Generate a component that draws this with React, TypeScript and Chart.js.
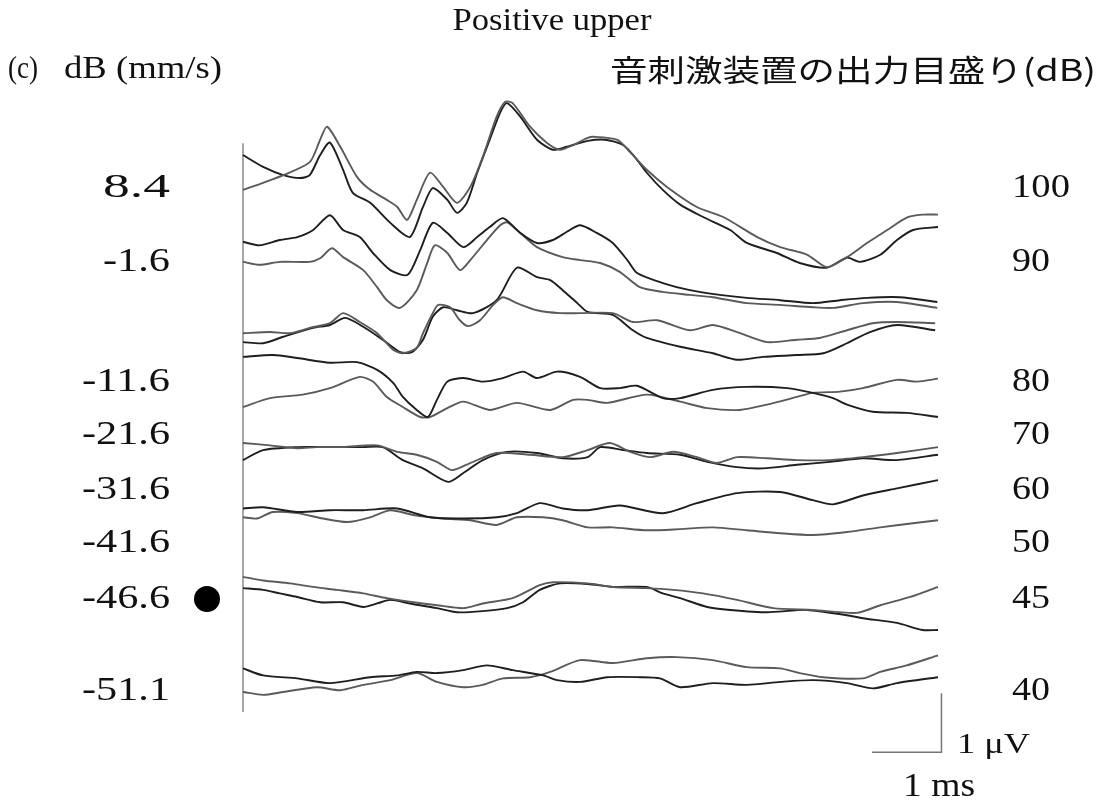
import React, { useEffect, useRef } from "react";
import { Chart, registerables } from "chart.js";

Chart.register(...registerables);

// stimulus output levels (dB) and corresponding velocity levels dB (mm/s)
const stimulusLevels = ["100", "90", "80", "70", "60", "50", "45", "40"];
const velocityLabels = ["8.4", "-1.6", "-11.6", "-21.6", "-31.6", "-41.6", "-46.6", "-51.1"];
// vertical offset of each recorded pair (μV, stacking offset)
const levelOffsets = [10.46, 9.44, 8.0, 7.07, 6.05, 5.03, 3.76, 2.15];

// each trace: [time (ms), amplitude (μV) relative to its level offset]
const trace100a = [[0,0],[0.29,0.12],[0.58,0.25],[0.96,0.47],[1.11,0.85],[1.21,1.07],[1.40,0.73],[1.64,0.22],[1.83,0],[2.07,-0.17],[2.22,-0.29],[2.36,-0.51],[2.50,-0.17],[2.69,0.29],[2.88,0.05],[3.08,-0.22],[3.27,0.05],[3.45,0.56],[3.65,1.24],[3.77,1.49],[3.88,1.47],[4.13,1.07],[4.37,0.80],[4.56,0.68],[4.75,0.76],[4.96,0.88],[5.04,0.90],[5.38,0.85],[5.57,0.64],[5.81,0.34],[6.10,0.05],[6.53,-0.29],[6.91,-0.46],[7.40,-0.80],[7.73,-0.97],[8.12,-1.10],[8.40,-1.31],[8.69,-1.14],[8.98,-0.90],[9.27,-0.68],[9.55,-0.47],[9.78,-0.42],[10.0,-0.42]];
const trace100b = [[0,0.59],[0.29,0.39],[0.58,0.25],[0.82,0.20],[0.96,0.25],[1.11,0.59],[1.25,0.80],[1.44,0.34],[1.58,-0.05],[1.83,-0.22],[2.12,-0.56],[2.40,-0.80],[2.59,-0.29],[2.73,0.03],[2.94,-0.17],[3.08,-0.39],[3.22,-0.22],[3.37,0.29],[3.55,0.85],[3.70,1.31],[3.80,1.47],[3.99,1.24],[4.23,0.85],[4.46,0.68],[4.66,0.73],[4.96,0.83],[5.21,0.85],[5.47,0.76],[5.67,0.51],[5.81,0.29],[6.04,0],[6.29,-0.25],[6.62,-0.46],[7.01,-0.68],[7.25,-0.90],[7.68,-1.07],[8.01,-1.24],[8.40,-1.32],[8.69,-1.15],[8.88,-1.22],[9.17,-1.10],[9.41,-0.85],[9.64,-0.68],[10.0,-0.63]];
const trace90a = [[0,0.14],[0.24,0.08],[0.53,0.17],[0.78,0.22],[1.01,0.34],[1.25,0.59],[1.44,0.34],[1.68,0.22],[1.87,-0.05],[2.12,-0.34],[2.37,-0.42],[2.55,0],[2.73,0.46],[2.94,0.29],[3.17,0.05],[3.37,0.22],[3.55,0.39],[3.74,0.54],[3.99,0.29],[4.23,0.12],[4.46,0.17],[4.66,0.31],[4.85,0.42],[5.09,0.29],[5.32,0.12],[5.53,-0.17],[5.67,-0.39],[6.04,-0.56],[6.43,-0.68],[6.86,-0.76],[7.25,-0.81],[7.73,-0.85],[8.20,-0.90],[8.59,-0.85],[8.98,-0.81],[9.45,-0.80],[9.99,-0.88]];
const trace90b = [[0,-0.20],[0.24,-0.25],[0.53,-0.20],[0.96,-0.20],[1.11,-0.14],[1.28,0.03],[1.44,-0.12],[1.73,-0.34],[1.93,-0.63],[2.07,-0.85],[2.26,-0.98],[2.50,-0.68],[2.65,-0.22],[2.76,0.08],[2.94,-0.05],[3.12,-0.34],[3.27,-0.17],[3.51,0.17],[3.70,0.42],[3.80,0.47],[3.99,0.29],[4.23,0.05],[4.60,-0.12],[4.85,-0.17],[5.14,-0.22],[5.42,-0.37],[5.71,-0.63],[6.04,-0.71],[6.43,-0.76],[6.76,-0.80],[7.25,-0.90],[7.73,-0.93],[8.20,-0.97],[8.49,-0.98],[8.92,-0.90],[9.41,-0.88],[9.99,-0.98]];
const trace80a = [[0,0.03],[0.39,0.05],[0.68,0.03],[0.96,0.12],[1.25,0.20],[1.44,0.37],[1.68,0.22],[1.93,0.03],[2.16,-0.25],[2.30,-0.31],[2.50,-0.22],[2.59,0.03],[2.73,0.37],[2.81,0.51],[2.98,0.47],[3.12,0.25],[3.24,0.15],[3.41,0.25],[3.60,0.51],[3.74,0.64],[3.94,0.54],[4.23,0.42],[4.56,0.37],[4.85,0.37],[5.32,0.37],[5.61,0.22],[5.96,0.25],[6.43,0.08],[6.76,0.17],[7.11,0.05],[7.54,-0.12],[7.97,-0.08],[8.30,-0.05],[8.69,0.08],[9.06,0.20],[9.41,0.22],[9.96,0.20]];
const trace80b = [[0,-0.12],[0.29,-0.14],[0.58,-0.03],[1.01,0.12],[1.25,0.17],[1.47,0.29],[1.73,0.14],[2.01,-0.08],[2.26,-0.29],[2.43,-0.29],[2.59,-0.08],[2.73,0.31],[2.88,0.47],[3.08,0.42],[3.31,0.37],[3.65,0.59],[3.94,1.14],[4.23,0.98],[4.42,0.93],[4.60,0.76],[4.81,0.54],[4.96,0.39],[5.32,0.34],[5.61,0.08],[5.81,-0.05],[6.29,-0.20],[6.76,-0.31],[7.11,-0.42],[7.48,-0.37],[7.97,-0.34],[8.35,-0.31],[8.69,-0.14],[9.02,0.05],[9.41,0.17],[9.96,0.08]];
const trace70a = [[0,0.56],[0.43,0.59],[0.78,0.54],[1.25,0.46],[1.64,0.47],[1.93,0.34],[2.16,0.12],[2.30,-0.12],[2.50,-0.34],[2.66,-0.46],[2.79,-0.17],[2.94,0.14],[3.17,0.20],[3.45,0.14],[3.74,0.20],[4.03,0.31],[4.23,0.20],[4.52,0.31],[4.85,0.22],[5.14,0.03],[5.42,0.03],[5.67,0.07],[6.04,-0.14],[6.29,-0.14],[6.76,0],[7.25,0.05],[7.83,0.03],[8.20,-0.05],[8.49,-0.14],[8.69,-0.25],[9.06,-0.37],[9.55,-0.39],[10.0,-0.46]];
const trace70b = [[0,-0.29],[0.39,-0.14],[0.86,-0.08],[1.25,0.03],[1.68,0.22],[1.87,0.14],[2.07,-0.12],[2.30,-0.29],[2.55,-0.46],[2.69,-0.46],[2.94,-0.31],[3.17,-0.20],[3.55,-0.34],[3.94,-0.22],[4.42,-0.34],[4.75,-0.17],[4.96,-0.17],[5.24,-0.22],[5.81,-0.08],[6.29,-0.20],[6.68,-0.31],[7.15,-0.34],[7.54,-0.25],[7.97,-0.12],[8.20,-0.05],[8.59,-0.03],[8.92,0.03],[9.41,0.17],[9.70,0.14],[10.0,0.19]];
const trace60a = [[0,0.12],[0.39,0.08],[0.78,0.03],[1.06,0.05],[1.44,0.05],[1.93,0.08],[2.22,-0.03],[2.50,-0.08],[2.79,-0.20],[3.01,-0.34],[3.27,-0.22],[3.65,-0.05],[4.13,-0.08],[4.60,-0.12],[4.96,0],[5.28,0.12],[5.57,-0.03],[5.86,-0.12],[6.19,-0.03],[6.53,-0.12],[6.82,-0.22],[7.11,-0.12],[7.54,-0.14],[7.97,-0.17],[8.45,-0.17],[8.92,-0.12],[9.41,-0.05],[10.0,0.05]];
const trace60b = [[0,-0.17],[0.29,0],[0.78,0.05],[1.25,0.05],[1.73,0.05],[2.01,0.05],[2.30,-0.17],[2.59,-0.31],[2.95,-0.54],[3.17,-0.39],[3.45,-0.17],[3.80,-0.03],[4.23,-0.05],[4.60,-0.14],[4.96,-0.12],[5.14,0.05],[5.47,0],[5.81,-0.05],[6.29,-0.08],[6.68,-0.20],[7.11,-0.29],[7.48,-0.31],[7.97,-0.25],[8.45,-0.20],[8.92,-0.14],[9.41,-0.17],[10.0,-0.08]];
const trace50a = [[0,0.03],[0.29,0.05],[0.78,-0.03],[1.25,0],[1.73,0],[2.22,0.03],[2.69,-0.12],[3.17,-0.14],[3.65,-0.12],[3.94,-0.05],[4.27,0.12],[4.60,0.03],[4.96,0],[5.42,0.08],[6.04,-0.05],[6.53,0.12],[7.11,0.29],[7.73,0.31],[8.20,0.17],[8.49,0.10],[8.92,0.25],[9.41,0.37],[10.0,0.51]];
const trace50b = [[0,-0.12],[0.20,-0.14],[0.43,-0.03],[0.78,-0.05],[1.15,-0.14],[1.50,-0.20],[1.83,-0.12],[2.12,0],[2.45,-0.08],[2.88,-0.14],[3.27,-0.17],[3.65,-0.25],[3.94,-0.12],[4.32,-0.12],[4.60,-0.17],[4.96,-0.29],[5.32,-0.29],[5.81,-0.34],[6.29,-0.32],[6.76,-0.29],[7.25,-0.34],[7.73,-0.39],[8.20,-0.42],[8.69,-0.37],[9.17,-0.29],[9.64,-0.22],[10.0,-0.17]];
const trace45a = [[0,0.14],[0.29,0.08],[0.68,0.03],[1.01,-0.03],[1.35,-0.08],[1.73,-0.14],[2.07,-0.22],[2.45,-0.29],[2.79,-0.34],[3.17,-0.39],[3.45,-0.31],[3.88,-0.22],[4.27,0],[4.46,0.05],[4.96,0.03],[5.32,-0.03],[5.81,-0.05],[6.19,-0.08],[6.62,-0.14],[7.11,-0.25],[7.63,-0.39],[8.20,-0.42],[8.83,-0.47],[9.17,-0.34],[9.60,-0.20],[10.0,-0.03]];
const trace45b = [[0,-0.05],[0.29,-0.08],[0.53,-0.14],[0.78,-0.20],[1.11,-0.29],[1.44,-0.29],[1.73,-0.37],[1.93,-0.31],[2.12,-0.25],[2.40,-0.31],[2.79,-0.39],[3.08,-0.46],[3.45,-0.44],[3.80,-0.39],[4.03,-0.29],[4.27,-0.08],[4.56,0.03],[4.96,0.02],[5.32,-0.03],[5.81,-0.03],[6.04,-0.14],[6.29,-0.22],[6.68,-0.37],[7.01,-0.42],[7.54,-0.46],[8.12,-0.42],[8.69,-0.51],[8.92,-0.56],[9.41,-0.64],[9.78,-0.76],[10.0,-0.76]];
const trace40a = [[0,0.20],[0.29,0.08],[0.78,0.03],[1.25,-0.05],[1.83,0.05],[2.22,0.08],[2.50,0.14],[2.79,0.12],[3.17,0.17],[3.51,0.25],[3.88,0.17],[4.32,0.08],[4.52,0],[4.85,-0.03],[5.24,0.05],[5.71,0.05],[6.00,0.03],[6.29,-0.12],[6.76,-0.05],[7.25,-0.08],[7.73,-0.03],[8.20,0],[8.69,-0.05],[9.06,-0.14],[9.41,-0.05],[10.0,0.05]];
const trace40b = [[0,-0.20],[0.29,-0.25],[0.58,-0.20],[1.06,-0.12],[1.40,-0.17],[1.73,-0.08],[2.12,0],[2.50,0.12],[2.79,-0.03],[3.17,-0.12],[3.45,-0.08],[3.74,0.03],[4.13,0.05],[4.42,0.14],[4.85,0.34],[5.32,0.29],[5.81,0.37],[6.24,0.39],[6.76,0.34],[7.25,0.22],[7.73,0.20],[8.01,0.12],[8.35,0.05],[8.92,0.03],[9.17,0.14],[9.55,0.25],[10.0,0.42]];

const tracePairs = [
  [trace100a, trace100b],
  [trace90a, trace90b],
  [trace80a, trace80b],
  [trace70a, trace70b],
  [trace60a, trace60b],
  [trace50a, trace50b],
  [trace45a, trace45b],
  [trace40a, trace40b],
];

// scale bar: 1 μV vertical then 1 ms horizontal
const scaleBarX = [10.05, 10.05, 9.05];
const scaleBarY = [1.93, 0.93, 0.93];
// left axis line (time zero)
const axisLineY = [1.61, 11.25];

const PX_PER_UV = 59;
const W = 1110;
const H = 807;

const serif = '"Liberation Serif", "DejaVu Serif", serif';
const jp = '"Noto Sans CJK JP", sans-serif';

function fitText(ctx: CanvasRenderingContext2D, text: string, x: number, y: number, width: number, align: CanvasTextAlign, font: string) {
  ctx.save();
  ctx.font = font;
  const w = ctx.measureText(text).width;
  const s = width / w;
  ctx.translate(x, y);
  ctx.scale(s, 1);
  ctx.textAlign = align;
  ctx.textBaseline = "middle";
  ctx.fillStyle = "#111";
  ctx.fillText(text, 0, 0);
  ctx.restore();
}

const leftLabelY = [188, 262, 382, 435, 490, 543, 599, 691];
const leftLabelW = [67, 67, 88, 88, 88, 88, 88, 88];
const rightLabelW = [58, 38, 38, 38, 38, 38, 38, 38];

const textPlugin = {
  id: "textPlugin",
  afterDraw(chart: any) {
    const ctx: CanvasRenderingContext2D = chart.ctx;
    const f = `34px ${serif}`;
    const ft = `31px ${serif}`;
    fitText(ctx, "Positive upper", 552, 22, 199, "center", ft);
    fitText(ctx, "(c)", 8, 70, 30, "left", ft);
    fitText(ctx, "dB (mm/s)", 64, 70, 158, "left", ft);
    fitText(ctx, "音刺激装置の出力目盛り(dB)", 610, 70, 486, "left", `30px ${jp}`);
    velocityLabels.forEach((t, i) => fitText(ctx, t, 170, leftLabelY[i], leftLabelW[i], "right", f));
    stimulusLevels.forEach((t, i) => fitText(ctx, t, 1012, leftLabelY[i], rightLabelW[i], "left", f));
    fitText(ctx, "1 μV", 957, 745, 73, "left", `30px ${serif}`);
    fitText(ctx, "1 ms", 903, 787, 72, "left", f);
    // marker dot next to -46.6
    ctx.save();
    ctx.beginPath();
    ctx.arc(207, 599, 13, 0, Math.PI * 2);
    ctx.fillStyle = "#000";
    ctx.fill();
    ctx.restore();
  },
};

const traceColors = ["#5a5a5a", "#1e1e1e"];

export default function App() {
  const ref = useRef<HTMLCanvasElement | null>(null);
  useEffect(() => {
    if (!ref.current) return;
    const datasets: any[] = [];
    tracePairs.forEach((pair, li) => {
      pair.forEach((tr, k) => {
        datasets.push({
          label: `${stimulusLevels[li]} dB ${k + 1}`,
          data: tr.map(([t, v]) => ({ x: t, y: v + levelOffsets[li] })),
          borderColor: traceColors[(k + li) % 2],
          borderWidth: 1.9,
          pointRadius: 0,
          tension: 0.25,
          fill: false,
          clip: false,
        });
      });
    });
    datasets.push({
      label: "axis",
      data: axisLineY.map((y) => ({ x: 0, y })),
      borderColor: "#8a8a8a",
      borderWidth: 1.5,
      pointRadius: 0,
      clip: false,
    });
    datasets.push({
      label: "scale",
      data: scaleBarX.map((x, i) => ({ x, y: scaleBarY[i] })),
      borderColor: "#777",
      borderWidth: 1.5,
      pointRadius: 0,
      tension: 0,
      clip: false,
    });
    const chart = new Chart(ref.current, {
      type: "line",
      data: { datasets },
      options: {
        responsive: false,
        animation: false,
        layout: { padding: { left: 243, right: 172, top: 0, bottom: 0 } },
        scales: {
          x: { type: "linear", min: 0, max: 10, display: false },
          y: { type: "linear", min: 0, max: H / PX_PER_UV, display: false },
        },
        plugins: { legend: { display: false }, tooltip: { enabled: false } },
      },
      plugins: [textPlugin],
    });
    return () => chart.destroy();
  }, []);
  return (
    <div style={{ position: "absolute", left: 0, top: 0, width: W, height: H, background: "#fff" }}>
      <canvas ref={ref} width={W} height={H} style={{ width: W, height: H }} />
    </div>
  );
}
